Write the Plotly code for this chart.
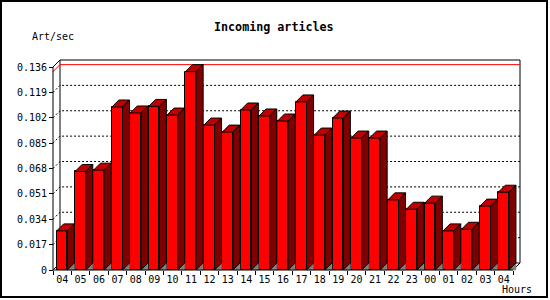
import plotly.graph_objects as go

# ---------------- data ----------------
hours = ["04", "05", "06", "07", "08", "09", "10", "11", "12", "13", "14", "15", "16",
         "17", "18", "19", "20", "21", "22", "23", "00", "01", "02", "03", "04"]
rate = [0.0262, 0.0660, 0.0669, 0.1092, 0.1052, 0.1096, 0.1038, 0.1329, 0.0971,
        0.0924, 0.1072, 0.1032, 0.0998, 0.1126, 0.0904, 0.1018, 0.0884, 0.0884,
        0.0470, 0.0407, 0.0448, 0.0262, 0.0273, 0.0428, 0.0521]
y_ticks = [0, 0.017, 0.034, 0.051, 0.068, 0.085, 0.102, 0.119, 0.136]
y_tick_text = ["0", "0.017", "0.034", "0.051", "0.068", "0.085", "0.102", "0.119", "0.136"]
title_text = "Incoming articles"
y_title = "Art/sec"
x_title = "Hours"

# ---------------- geometry ----------------
W, H = 550, 300
L, R, T, B = 40, 20, 45, 20          # plot area 40..530 x 45..280
PW, PH = W - L - R, H - T - B
n = len(hours)
y_top = y_ticks[-1]
FRONT_X0, FRONT_X1 = 53, 513          # pixel span of front x axis
FRONT_Y0 = 270                        # pixel of value 0 on front
DEPTH = 7                             # 3-D depth in pixels
slot_px = (FRONT_X1 - FRONT_X0) / n
y_px = (FRONT_Y0 - 60 - DEPTH) / y_top  # pixels per unit
ddx = DEPTH / slot_px
ddy = DEPTH / y_px
BAR_OFF, BAR_W = 0.2, 0.58

x_range = [(L - FRONT_X0) / slot_px, (L + PW - FRONT_X0) / slot_px]
y_range = [-(T + PH - FRONT_Y0) / y_px, (FRONT_Y0 - T) / y_px]


def px(xp):
    return (xp - L) / PW


def py(yp):
    return (T + PH - yp) / PH


RED, TOP, SIDE, GREY = "#ff0000", "#c00000", "#800000", "#808080"
FONT = "DejaVu Sans Mono"

fig = go.Figure()

# front faces
fig.add_trace(go.Bar(
    x=[k + BAR_OFF + BAR_W / 2 for k in range(n)], y=rate, width=BAR_W,
    marker=dict(color=RED, line=dict(color="black", width=1)),
    hoverinfo="skip", showlegend=False))

tri_x, tri_y, top_x, top_y, side_x, side_y = [], [], [], [], [], []
for k, v in enumerate(rate):
    x0 = k + BAR_OFF
    x1 = x0 + BAR_W
    tri_x += [x1, x1 + ddx, x1 + ddx, x1, None]
    tri_y += [0, ddy, 0, 0, None]
    top_x += [x0, x0 + ddx, x1 + ddx, x1, x0, None]
    top_y += [v, v + ddy, v + ddy, v, v, None]
    side_x += [x1, x1 + ddx, x1 + ddx, x1, x1, None]
    side_y += [0, ddy, v + ddy, v, 0, None]

fig.add_trace(go.Scatter(x=tri_x, y=tri_y, mode="lines", fill="toself", fillcolor=GREY,
                         line=dict(color=GREY, width=0.5), hoverinfo="skip", showlegend=False))
fig.add_trace(go.Scatter(x=top_x, y=top_y, mode="lines", fill="toself", fillcolor=TOP,
                         line=dict(color="black", width=1), hoverinfo="skip", showlegend=False))
fig.add_trace(go.Scatter(x=side_x, y=side_y, mode="lines", fill="toself", fillcolor=SIDE,
                         line=dict(color="black", width=1), hoverinfo="skip", showlegend=False))
# dummy trace for the label axis
fig.add_trace(go.Scatter(x=[0.5], y=[0], xaxis="x2", mode="markers",
                         marker=dict(opacity=0), hoverinfo="skip", showlegend=False))

shapes = []
# back wall frame
shapes.append(dict(type="path", layer="below", line=dict(color="black", width=1),
                   path=f"M {ddx},{ddy} L {ddx},{y_top + ddy} L {n + ddx},{y_top + ddy} "
                        f"L {n + ddx},{ddy} Z"))
# dashed grid on back wall (with left-wall diagonal)
for v in y_ticks[1:-1]:
    shapes.append(dict(type="path", layer="below",
                       line=dict(color="black", width=1, dash="2px,2px"),
                       path=f"M 0,{v} L {ddx},{v + ddy} L {n + ddx},{v + ddy}"))
# red max line
vmax = max(rate)
shapes.append(dict(type="path", layer="below", line=dict(color="#ff0000", width=1),
                   path=f"M 0,{vmax} L {ddx},{vmax + ddy} L {n + ddx},{vmax + ddy}"))
# left wall top / bottom and floor right edge
shapes.append(dict(type="path", layer="below", line=dict(color="black", width=1),
                   path=f"M 0,{y_top} L {ddx},{y_top + ddy}"))
shapes.append(dict(type="path", layer="below", line=dict(color="black", width=1),
                   path=f"M 0,0 L {ddx},{ddy}"))
shapes.append(dict(type="path", layer="below", line=dict(color="black", width=1),
                   path=f"M {n},0 L {n + ddx},{ddy}"))
# front axes
shapes.append(dict(type="path", layer="above", line=dict(color="black", width=1),
                   path=f"M 0,{y_top} L 0,0 L {n},0"))
# outer border
shapes.append(dict(type="rect", xref="paper", yref="paper",
                   x0=px(1), x1=px(547), y0=py(297), y1=py(1),
                   line=dict(color="black", width=2)))

x_axis_pos = py(FRONT_Y0)
y_axis_pos = px(FRONT_X0)

fig.update_layout(
    width=W, height=H,
    margin=dict(l=L, r=R, t=T, b=B, pad=0, autoexpand=False),
    paper_bgcolor="white", plot_bgcolor="white",
    showlegend=False, bargap=0,
    shapes=shapes,
    xaxis=dict(range=x_range, anchor="free", position=x_axis_pos,
               tickvals=list(range(n + 1)), showticklabels=False,
               ticks="outside", ticklen=4, tickcolor="black", tickwidth=1,
               showgrid=False, zeroline=False, showline=False, fixedrange=True),
    xaxis2=dict(range=x_range, overlaying="x", anchor="free", position=x_axis_pos,
                side="bottom",
                tickvals=[k + 0.5 for k in range(n)], ticktext=hours,
                ticks="", ticklabelstandoff=2,
                tickfont=dict(family=FONT, size=10, color="black"),
                showgrid=False, zeroline=False, showline=False, fixedrange=True),
    yaxis=dict(range=y_range, anchor="free", position=y_axis_pos,
               tickvals=y_ticks, ticktext=y_tick_text,
               ticks="outside", ticklen=4, tickcolor="black", tickwidth=1,
               tickfont=dict(family=FONT, size=10, color="black"),
               showgrid=False, zeroline=False, showline=False, fixedrange=True),
    annotations=[
        dict(text=title_text, xref="paper", yref="paper", x=px(273.5), y=py(27.5),
             xanchor="center", yanchor="middle", showarrow=False,
             font=dict(family=FONT, size=11.7, color="black", weight="bold")),
        dict(text=y_title, xref="paper", yref="paper", x=px(30), y=py(37),
             xanchor="left", yanchor="middle", showarrow=False,
             font=dict(family=FONT, size=10, color="black")),
        dict(text=x_title, xref="paper", yref="paper", x=px(533.5), y=py(289.5),
             xanchor="right", yanchor="middle", showarrow=False,
             font=dict(family=FONT, size=10, color="black")),
    ],
)

fig.write_html("out.html")
